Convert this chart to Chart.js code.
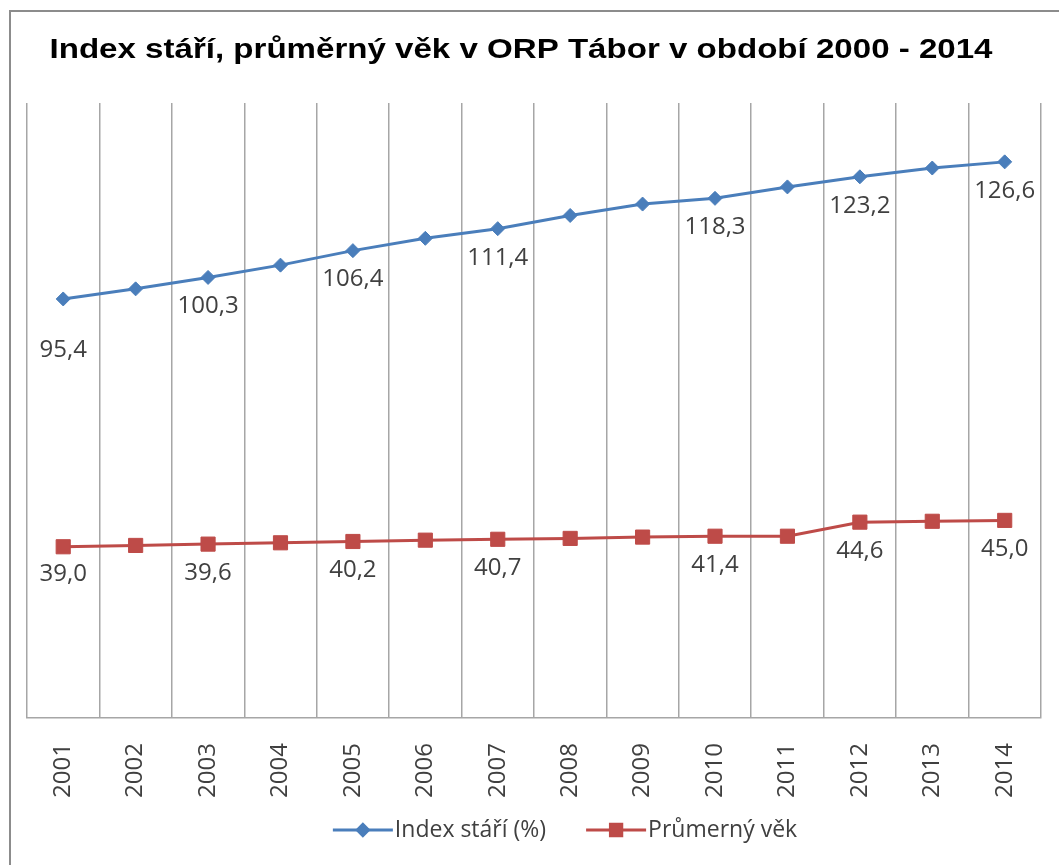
<!DOCTYPE html>
<html>
<head>
<meta charset="utf-8">
<title>Index stáří, průměrný věk v ORP Tábor</title>
<script src="https://cdn.jsdelivr.net/npm/chart.js@4/dist/chart.umd.min.js"></script>
<style>
  html, body { margin: 0; padding: 0; background: #fff; }
</style>
</head>
<body>
<canvas id="grafTabor" width="1059" height="865"></canvas>
<script>
// Data
const roky = ['2001', '2002', '2003', '2004', '2005', '2006', '2007', '2008', '2009', '2010', '2011', '2012', '2013', '2014'];
const indexStari = [95.4, 97.7, 100.3, 103.1, 106.4, 109.2, 111.4, 114.4, 117.0, 118.3, 120.9, 123.2, 125.2, 126.6];
const prumernyVek = [39.0, 39.3, 39.6, 39.9, 40.2, 40.5, 40.7, 40.9, 41.2, 41.4, 41.4, 44.6, 44.8, 45.0];
// roky, u kterých jsou v grafu popisky hodnot
const rokySPopiskem = ['2001', '2003', '2005', '2007', '2010', '2012', '2014'];
const rozsahY = [0, 140];
const nadpis = 'Index stáří, průměrný věk v ORP Tábor v období 2000 - 2014';

const MODRA = '#4a7ebb';
const CERVENA = '#be4b48';
const SEDA_TEXT = '#404040';

// formát s desetinnou čárkou
function cislo(v) {
  return v.toFixed(1).replace('.', ',');
}

// rámeček kolem celého grafu + nadpis (v originále je písmo roztažené do šířky)
const ramecek = {
  id: 'ramecek',
  beforeDraw(chart) {
    const ctx = chart.ctx;
    ctx.save();
    ctx.fillStyle = '#fff';
    ctx.fillRect(0, 0, chart.width, chart.height);
    ctx.strokeStyle = '#8c8c8c';
    ctx.lineWidth = 2;
    ctx.strokeRect(10, 11, chart.width + 20, chart.height + 20);

    ctx.font = 'bold 28px "Liberation Sans", Arial, sans-serif';
    ctx.fillStyle = '#000';
    ctx.textAlign = 'center';
    ctx.textBaseline = 'middle';
    const sirka = ctx.measureText(nadpis).width;
    const roztazeni = 943 / sirka;
    ctx.translate(521, 50);
    ctx.scale(roztazeni, 1);
    ctx.fillText(nadpis, 0, 0);
    ctx.restore();
  }
};

// popisky hodnot pod body
const popisky = {
  id: 'popisky',
  afterDatasetsDraw(chart) {
    const ctx = chart.ctx;
    ctx.save();
    ctx.font = '24px "Open Sans"';
    ctx.fillStyle = SEDA_TEXT;
    ctx.textAlign = 'center';
    ctx.textBaseline = 'middle';
    chart.data.datasets.forEach((ds, i) => {
      const meta = chart.getDatasetMeta(i);
      meta.data.forEach((bod, j) => {
        if (!rokySPopiskem.includes(roky[j])) return;
        const posun = j === 0 ? ds.posunPrvni : ds.posun;
        ctx.fillText(cislo(ds.data[j]), bod.x, bod.y + posun);
      });
    });
    ctx.restore();
  }
};

// legenda ve stylu Excelu (čára se značkou)
const legenda = {
  id: 'legenda',
  afterDraw(chart) {
    const ctx = chart.ctx;
    const y = 830;
    const delkaCary = 60, mezeraText = 2, mezeraPolozky = 40;
    ctx.save();
    ctx.font = '23px "Open Sans"';
    ctx.textBaseline = 'middle';
    ctx.textAlign = 'left';
    const sady = chart.data.datasets;
    const sirky = sady.map(ds => ctx.measureText(ds.label).width);
    let celkem = 0;
    sirky.forEach(w => { celkem += delkaCary + mezeraText + w; });
    celkem += mezeraPolozky * (sady.length - 1);
    let x = 565 - celkem / 2;
    sady.forEach((ds, i) => {
      ctx.strokeStyle = ds.borderColor;
      ctx.lineWidth = 3;
      ctx.beginPath();
      ctx.moveTo(x, y);
      ctx.lineTo(x + delkaCary, y);
      ctx.stroke();
      Chart.helpers.drawPoint(ctx, {
        pointStyle: ds.pointStyle,
        radius: ds.pointRadius * 0.8,
        borderWidth: 1
      }, x + delkaCary / 2, y);
      ctx.fillStyle = ds.backgroundColor;
      ctx.strokeStyle = ds.borderColor;
      ctx.fill();
      ctx.fillStyle = SEDA_TEXT;
      ctx.fillText(ds.label, x + delkaCary + mezeraText, y);
      x += delkaCary + mezeraText + sirky[i] + mezeraPolozky;
    });
    ctx.restore();
  }
};

new Chart(document.getElementById('grafTabor'), {
  type: 'line',
  data: {
    labels: roky,
    datasets: [
      {
        label: 'Index stáří (%)',
        data: indexStari,
        borderColor: MODRA,
        backgroundColor: MODRA,
        borderWidth: 3,
        pointStyle: 'rectRot',
        pointRadius: 7,
        pointBorderWidth: 1,
        tension: 0,
        posun: 29,
        posunPrvni: 51
      },
      {
        label: 'Průmerný věk',
        data: prumernyVek,
        borderColor: CERVENA,
        backgroundColor: CERVENA,
        borderWidth: 3,
        pointStyle: 'rect',
        pointRadius: 10,
        pointBorderWidth: 1,
        tension: 0,
        posun: 29,
        posunPrvni: 27
      }
    ]
  },
  options: {
    responsive: false,
    animation: false,
    layout: { padding: { left: 27, right: 14, top: 103, bottom: 42 } },
    plugins: {
      legend: { display: false },
      tooltip: { enabled: false },
      title: { display: false }
    },
    scales: {
      x: {
        offset: true,
        grid: { offset: true, color: '#a6a6a6', lineWidth: 1.5, drawTicks: false },
        border: { display: true, color: '#a6a6a6', width: 1.5 },
        ticks: {
          minRotation: 90,
          maxRotation: 90,
          padding: 25,
          color: SEDA_TEXT,
          font: { family: '"Open Sans"', size: 24 }
        }
      },
      y: {
        display: false,
        min: rozsahY[0],
        max: rozsahY[1]
      }
    }
  },
  plugins: [ramecek, popisky, legenda]
});
</script>
</body>
</html>
